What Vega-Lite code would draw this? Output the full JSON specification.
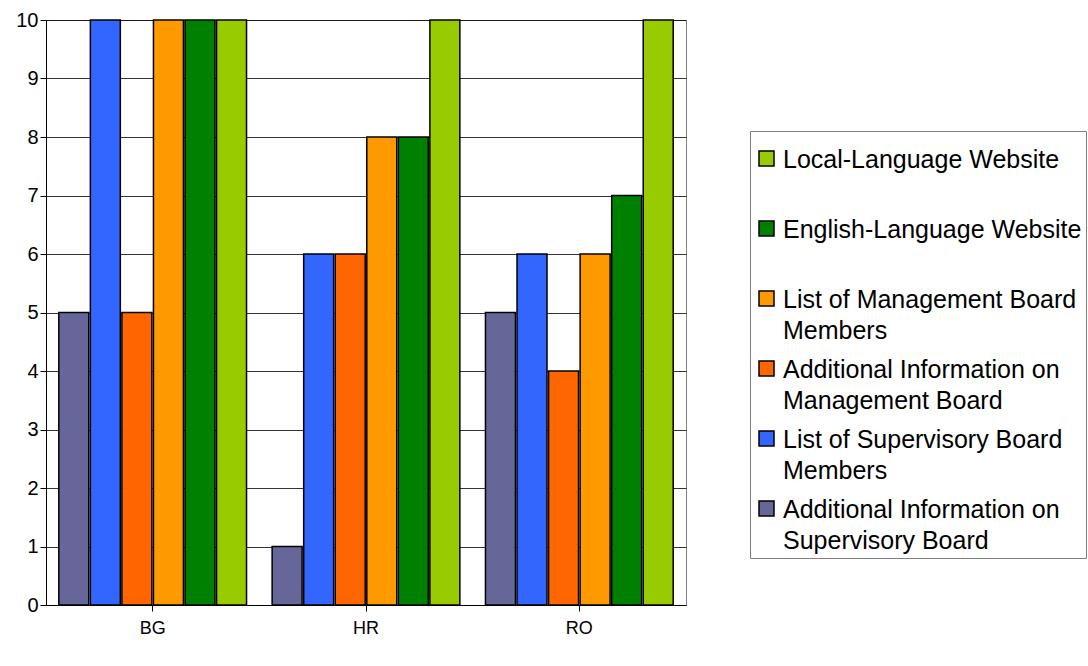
{
  "$schema": "https://vega.github.io/schema/vega-lite/v6.json",
  "autosize": "none",
  "width": 640,
  "height": 585,
  "padding": {"left": 46, "top": 20, "right": 402, "bottom": 61},
  "background": "white",
  "config": {
    "font": "Liberation Sans",
    "view": {"stroke": "#808080", "strokeWidth": 1},
    "style": {"guide-label": {"lineHeight": 31}}
  },
  "data": {
    "values": [
      {"country": "BG", "series": "Local-Language Website", "value": 10},
      {"country": "HR", "series": "Local-Language Website", "value": 10},
      {"country": "RO", "series": "Local-Language Website", "value": 10},
      {"country": "BG", "series": "English-Language Website", "value": 10},
      {"country": "HR", "series": "English-Language Website", "value": 8},
      {"country": "RO", "series": "English-Language Website", "value": 7},
      {"country": "BG", "series": "List of Management Board Members", "value": 10},
      {"country": "HR", "series": "List of Management Board Members", "value": 8},
      {"country": "RO", "series": "List of Management Board Members", "value": 6},
      {"country": "BG", "series": "Additional Information on Management Board", "value": 5},
      {"country": "HR", "series": "Additional Information on Management Board", "value": 6},
      {"country": "RO", "series": "Additional Information on Management Board", "value": 4},
      {"country": "BG", "series": "List of Supervisory Board Members", "value": 10},
      {"country": "HR", "series": "List of Supervisory Board Members", "value": 6},
      {"country": "RO", "series": "List of Supervisory Board Members", "value": 6},
      {"country": "BG", "series": "Additional Information on Supervisory Board", "value": 5},
      {"country": "HR", "series": "Additional Information on Supervisory Board", "value": 1},
      {"country": "RO", "series": "Additional Information on Supervisory Board", "value": 5}
    ]
  },
  "mark": {"type": "bar", "stroke": "black", "strokeWidth": 1.5},
  "encoding": {
    "x": {
      "field": "country",
      "type": "nominal",
      "sort": ["BG", "HR", "RO"],
      "scale": {"paddingInner": 0.12, "paddingOuter": 0.06},
      "axis": {
        "title": null,
        "labelAngle": 0,
        "labelFontSize": 18,
        "labelColor": "black",
        "labelPadding": 8,
        "tickColor": "black",
        "domainColor": "black",
        "tickSize": 6
      }
    },
    "xOffset": {
      "field": "series",
      "type": "nominal",
      "sort": [
        "Additional Information on Supervisory Board",
        "List of Supervisory Board Members",
        "Additional Information on Management Board",
        "List of Management Board Members",
        "English-Language Website",
        "Local-Language Website"
      ],
      "scale": {"paddingInner": 0.05}
    },
    "y": {
      "field": "value",
      "type": "quantitative",
      "scale": {"domain": [0, 10]},
      "axis": {
        "title": null,
        "values": [0, 1, 2, 3, 4, 5, 6, 7, 8, 9, 10],
        "labelFontSize": 20,
        "labelColor": "black",
        "labelOverlap": false,
        "tickColor": "black",
        "domainColor": "black",
        "gridColor": "black",
        "gridWidth": 0.8,
        "tickSize": 6
      }
    },
    "color": {
      "field": "series",
      "type": "nominal",
      "scale": {
        "domain": [
          "Local-Language Website",
          "English-Language Website",
          "List of Management Board Members",
          "Additional Information on Management Board",
          "List of Supervisory Board Members",
          "Additional Information on Supervisory Board"
        ],
        "range": ["#99CC00", "#008000", "#FF9900", "#FF6600", "#3366FF", "#666699"]
      },
      "legend": {
        "title": null,
        "orient": "none",
        "legendX": 704,
        "legendY": 111,
        "strokeColor": "#808080",
        "fillColor": "white",
        "padding": 4,
        "symbolType": "M-1,0.45H1V2.45H-1Z",
        "symbolSize": 225,
        "symbolStrokeColor": "black",
        "symbolStrokeWidth": 1.5,
        "symbolOpacity": 1,
        "labelFontSize": 25,
        "labelColor": "black",
        "labelLimit": 400,
        "labelBaseline": "top",
        "labelOffset": 4,
        "rowPadding": 1,
        "labelExpr": "datum.label == 'List of Management Board Members' ? ['List of Management Board', 'Members'] : datum.label == 'Additional Information on Management Board' ? ['Additional Information on', 'Management Board'] : datum.label == 'List of Supervisory Board Members' ? ['List of Supervisory Board', 'Members'] : datum.label == 'Additional Information on Supervisory Board' ? ['Additional Information on', 'Supervisory Board'] : [datum.label, '']"
      }
    }
  }
}
